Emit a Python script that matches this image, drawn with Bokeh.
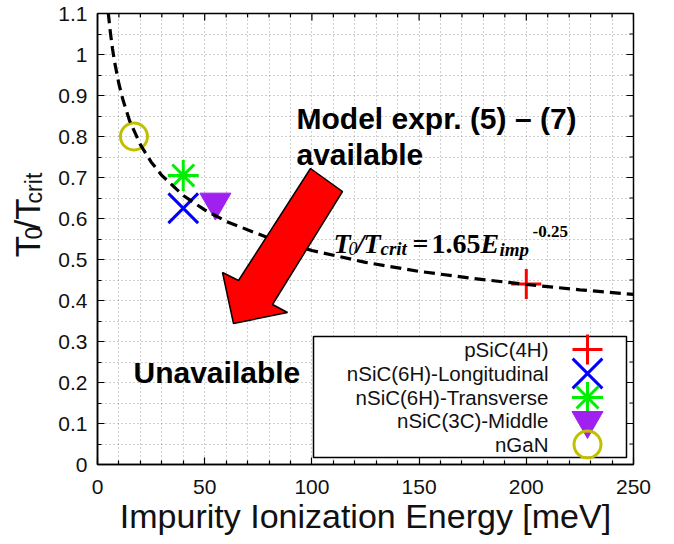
import math
from bokeh.plotting import figure
from bokeh.layouts import row
from bokeh.models import Range1d, FixedTicker, Label
from bokeh.embed import file_html
from bokeh.resources import INLINE

# ---------------- data ----------------
series_names = ["pSiC(4H)", "nSiC(6H)-Longitudinal", "nSiC(6H)-Transverse",
                "nSiC(3C)-Middle", "nGaN"]
energy_meV = [200, 40, 40, 55, 17]
t_ratio = [0.44, 0.625, 0.705, 0.64, 0.80]

# fit curve T0/Tcrit = 1.65 E^-0.25
fit_energy = [5, 6, 7, 8, 10, 12, 15, 20, 25, 30, 40, 50, 60, 80, 100,
              125, 150, 175, 200, 225, 250]
fit_ratio = [1.103, 1.054, 1.014, 0.981, 0.928, 0.887, 0.838, 0.780, 0.738,
             0.705, 0.656, 0.621, 0.593, 0.552, 0.522, 0.493, 0.471, 0.454,
             0.439, 0.426, 0.415]

x_ticks = [0, 50, 100, 150, 200, 250]
x_tick_labels = ["0", "50", "100", "150", "200", "250"]
x_minor_ticks = [10, 20, 30, 40, 60, 70, 80, 90, 110, 120, 130, 140, 160, 170,
                 180, 190, 210, 220, 230, 240]
y_ticks = [0, 0.1, 0.2, 0.3, 0.4, 0.5, 0.6, 0.7, 0.8, 0.9, 1.0, 1.1]
y_tick_labels = ["0", "0.1", "0.2", "0.3", "0.4", "0.5", "0.6", "0.7", "0.8",
                 "0.9", "1", "1.1"]
y_minor_ticks = [0.05, 0.15, 0.25, 0.35, 0.45, 0.55, 0.65, 0.75, 0.85, 0.95,
                 1.05]

# ---------------- layout (page pixels) ----------------
W, H = 668, 540
LW = 50                                   # width of the y-label strip
PL, PR, PT, PB = 97, 633, 13, 464         # frame edges on the page
XMIN, XMAX, YMIN, YMAX = 0, 250, 0, 1.1


def X(px):  # page pixel -> data x
    return XMIN + (px - PL) / (PR - PL) * (XMAX - XMIN)


def Y(py):  # page pixel -> data y
    return YMIN + (PB - py) / (PB - PT) * (YMAX - YMIN)


SANS = "Liberation Sans"
SERIF = "Liberation Serif"

# ---- y-axis title strip (rotated T0/Tcrit, centre-anchored pieces) ----
ylab = figure(width=LW, height=H, x_range=Range1d(0, LW), y_range=Range1d(0, H),
              output_backend="svg", toolbar_location=None,
              min_border_left=0, min_border_right=0, min_border_top=0,
              min_border_bottom=0)
ylab.axis.visible = False
ylab.grid.visible = False
ylab.outline_line_color = None
ylab.background_fill_color = "white"
ylab.border_fill_color = "white"
RA = math.pi / 2
for txt, cx, cy, fs in (("T", 27, 279, 35), ("0", 33, 263, 23),
                        ("/T", 27, 240, 35), ("crit", 33, 209, 23)):
    ylab.add_layout(Label(x=cx, y=H - cy, text=txt, angle=RA, text_font=SANS,
                          text_font_size=f"{fs}px", text_color="#111111",
                          text_align="center", text_baseline="middle"))

# ---- main plot ----
p = figure(width=W - LW, height=H, x_range=Range1d(XMIN, XMAX),
           y_range=Range1d(YMIN, YMAX), output_backend="svg",
           toolbar_location=None,
           min_border_left=PL - LW, min_border_right=W - PR,
           min_border_top=PT, min_border_bottom=H - PB)
p.background_fill_color = "white"
p.border_fill_color = "white"
p.outline_line_color = "black"
p.outline_line_width = 1.5

xt = FixedTicker(ticks=x_ticks, minor_ticks=x_minor_ticks)
yt = FixedTicker(ticks=y_ticks, minor_ticks=y_minor_ticks)

for ax, t in ((p.xaxis[0], xt), (p.yaxis[0], yt)):
    ax.ticker = t
    ax.major_tick_in = 7
    ax.major_tick_out = 0
    ax.minor_tick_in = 4
    ax.minor_tick_out = 0
    ax.major_tick_line_color = "black"
    ax.minor_tick_line_color = "black"
    ax.major_tick_line_width = 1.2
    ax.minor_tick_line_width = 1.2
    ax.axis_line_color = "black"
    ax.axis_line_width = 1.5
    ax.major_label_text_font = SANS
    ax.major_label_text_font_size = "21px"
    ax.major_label_text_color = "#111111"

p.xaxis[0].major_label_overrides = dict(zip(x_ticks, x_tick_labels))
p.yaxis[0].major_label_overrides = dict(zip(y_ticks, y_tick_labels))
p.xaxis[0].major_label_standoff = 15
p.yaxis[0].major_label_standoff = 10
p.xaxis[0].axis_label = "Impurity Ionization Energy [meV]"
p.xaxis[0].axis_label_text_font = SANS
p.xaxis[0].axis_label_text_font_size = "34px"
p.xaxis[0].axis_label_text_font_style = "normal"
p.xaxis[0].axis_label_text_color = "#111111"
p.xaxis[0].axis_label_standoff = 0

for g, t in ((p.xgrid[0], xt), (p.ygrid[0], yt)):
    g.ticker = t
    g.grid_line_color = "#a0a0a0"
    g.grid_line_dash = "1 3"
    g.grid_line_width = 1
    g.minor_grid_line_color = "#a0a0a0"
    g.minor_grid_line_dash = "1 3"
    g.minor_grid_line_width = 1

# mirrored inward ticks on the top and right edges of the frame
dx_maj, dx_min = 7 / (PR - PL) * (XMAX - XMIN), 4 / (PR - PL) * (XMAX - XMIN)
dy_maj, dy_min = 7 / (PB - PT) * (YMAX - YMIN), 4 / (PB - PT) * (YMAX - YMIN)
for ticks, d in ((x_ticks, dy_maj), (x_minor_ticks, dy_min)):
    p.segment(x0=ticks, y0=[YMAX] * len(ticks), x1=ticks,
              y1=[YMAX - d] * len(ticks), line_color="black", line_width=1.2)
for ticks, d in ((y_ticks, dx_maj), (y_minor_ticks, dx_min)):
    p.segment(x0=[XMAX] * len(ticks), y0=ticks, x1=[XMAX - d] * len(ticks),
              y1=ticks, line_color="black", line_width=1.2)

# ---------------- marker styles ----------------
STYLES = [
    dict(marker="cross", size=30, line_color="#ff0000", line_width=3),
    dict(marker="x", size=42, line_color="#0000ff", line_width=3),
    dict(marker="asterisk", size=31, line_color="#00ee00", line_width=3),
    dict(marker="inverted_triangle", size=31, line_color="#a020f0",
         fill_color="#a020f0", line_width=1),
    dict(marker="circle", size=27, line_color="#c0c000", fill_color=None,
         line_width=3),
]

for i, st in enumerate(STYLES):
    p.scatter(x=[energy_meV[i]], y=[t_ratio[i]], **st)

# fit curve
p.line(fit_energy, fit_ratio, line_color="black", line_width=3.2,
       line_dash="11 6")

# big red arrow (page pixel outline)
ARROW_PX = [(233, 323), (222, 272), (238, 280), (310, 168), (342, 191),
            (272, 304), (287, 312)]
p.patch([X(a) for a, b in ARROW_PX], [Y(b) for a, b in ARROW_PX],
        fill_color="#ff0000", line_color="black", line_width=1.5)

# legend box
p.quad(left=[X(313)], right=[X(626)], top=[Y(336)], bottom=[Y(457)],
       fill_color="white", line_color="black", line_width=1.5)
ROW_PY = [349, 373, 397, 420, 444]
for i, st in enumerate(STYLES):
    p.scatter(x=[X(587)], y=[Y(ROW_PY[i])], **st)


def lab(text, px, py, size, font=SANS, style="normal", align="left",
        baseline="alphabetic", color="black"):
    p.add_layout(Label(x=X(px), y=Y(py), text=text, text_font=font,
                       text_font_size=f"{size}px", text_font_style=style,
                       text_align=align, text_baseline=baseline,
                       text_color=color))


for i, name in enumerate(series_names):
    lab(name, 548, ROW_PY[i], 20.5, align="right", baseline="middle",
        color="#111111")

# annotations
lab("Model expr. (5) \u2013 (7)", 296, 118, 30, style="bold")
lab("available", 296, 154, 30, style="bold")
lab("Unavailable", 133, 372, 30, style="bold")

# formula T0/Tcrit = 1.65 Eimp^-0.25
lab("T", 333, 243, 28, font=SERIF, style="bold italic")
lab("0", 348, 248, 18, font=SERIF, style="italic")
lab("/", 356, 243, 28, font=SERIF, style="bold italic")
lab("T", 363, 243, 28, font=SERIF, style="bold italic")
lab("crit", 380, 248, 19, font=SERIF, style="bold italic")
lab("=", 412, 243, 28, font=SERIF, style="bold")
lab("1.65", 431, 243, 28, font=SERIF, style="bold")
lab("E", 480, 243, 28, font=SERIF, style="bold italic")
lab("imp", 499, 249, 19, font=SERIF, style="bold italic")
lab("-0.25", 532, 231, 17, font=SERIF, style="bold")

layout = row(ylab, p)
open("out.html", "w").write(file_html(layout, INLINE))
